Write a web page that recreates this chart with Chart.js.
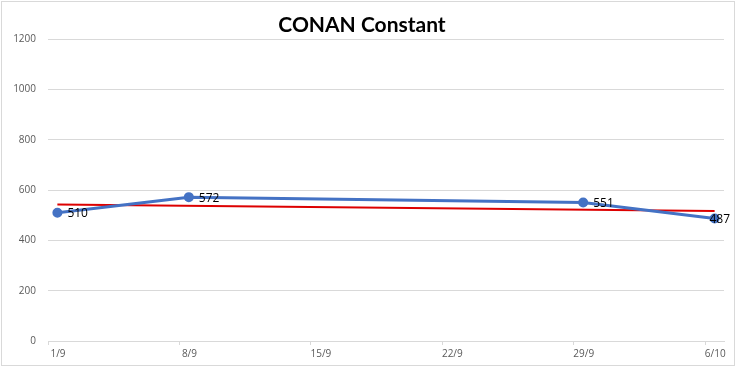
<!DOCTYPE html>
<html>
<head>
<meta charset="utf-8">
<script src="https://cdn.jsdelivr.net/npm/chart.js@4/dist/chart.umd.min.js"></script>
<style>
  html, body { margin: 0; padding: 0; background: #fff; }
  #wrap { width: 736px; height: 367px; }
</style>
</head>
<body>
<div id="wrap"><canvas id="lineChart" width="736" height="367"></canvas></div>
<script>
// days since 1/9
const tickDays = [0, 7, 14, 21, 28, 35];
const tickLabels = ['1/9', '8/9', '15/9', '22/9', '29/9', '6/10'];

const pointDays = [0, 7, 28, 35];
const constantValues = [510, 572, 551, 487];

// linear trend (first and last point)
const trendDays = [0, 35];
const trendValues = [543, 517];

// Excel puts each point in the middle of its day
const toXY = (days, values) => days.map((d, i) => ({ x: d + 0.5, y: values[i] }));

const frameAndLabels = {
    id: 'frameAndLabels',
    beforeDraw(chart) {
        const ctx = chart.ctx;
        ctx.save();
        ctx.strokeStyle = '#d9d9d9';
        ctx.lineWidth = 1;
        ctx.strokeRect(1.5, 1.5, chart.width - 3, chart.height - 3);
        ctx.restore();
    },
    afterDatasetsDraw(chart) {
        const ctx = chart.ctx;
        const meta = chart.getDatasetMeta(0);
        ctx.save();
        ctx.font = '12px "Open Sans", sans-serif';
        ctx.fillStyle = '#000';
        ctx.textBaseline = 'middle';
        ctx.textAlign = 'left';
        meta.data.forEach((pt, i) => {
            const text = String(constantValues[i]);
            const w = ctx.measureText(text).width;
            let x = pt.x + 10;
            if (x + w > chart.width - 6) x = chart.width - 6 - w;
            ctx.fillText(text, x, pt.y + 1);
        });
        ctx.restore();
    }
};

const ctx = document.getElementById('lineChart').getContext('2d');
new Chart(ctx, {
    type: 'line',
    data: {
        datasets: [{
            label: 'CONAN Constant',
            data: toXY(pointDays, constantValues),
            borderColor: '#4472c4',
            backgroundColor: '#4472c4',
            borderWidth: 3,
            pointRadius: 3.5,
            pointHoverRadius: 3.5,
            tension: 0
        }, {
            label: 'Trend',
            data: toXY(trendDays, trendValues),
            borderColor: '#dd0000',
            borderWidth: 2,
            pointRadius: 0,
            tension: 0,
            order: 1
        }]
    },
    options: {
        responsive: false,
        animation: false,
        layout: { padding: { left: 0, right: 12, top: 0, bottom: 0 } },
        plugins: {
            legend: { display: false },
            tooltip: { enabled: false },
            title: {
                display: true,
                text: 'CONAN Constant',
                color: '#000',
                font: { family: 'Lato, "Open Sans", sans-serif', size: 21, weight: 'bold' },
                padding: { top: 13, bottom: 1 }
            }
        },
        scales: {
            x: {
                type: 'linear',
                min: 0,
                max: 36,
                afterBuildTicks: axis => { axis.ticks = tickDays.map(v => ({ value: v })); },
                afterFit: axis => { axis.height = 26; },
                ticks: {
                    callback: (v, i) => tickLabels[i],
                    color: '#595959',
                    font: { family: '"Open Sans", sans-serif', size: 10 },
                    labelOffset: 10,
                    maxRotation: 0,
                    padding: 3
                },
                grid: { drawOnChartArea: false, tickLength: 4, color: '#d9d9d9' },
                border: { color: '#d9d9d9' }
            },
            y: {
                min: 0,
                max: 1200,
                afterFit: axis => { axis.width = 48; },
                ticks: {
                    stepSize: 200,
                    callback: v => String(v),
                    color: '#595959',
                    font: { family: '"Open Sans", sans-serif', size: 10 },
                    padding: 12
                },
                grid: { color: '#d9d9d9', drawTicks: false },
                border: { display: false }
            }
        }
    },
    plugins: [frameAndLabels]
});
</script>
</body>
</html>
